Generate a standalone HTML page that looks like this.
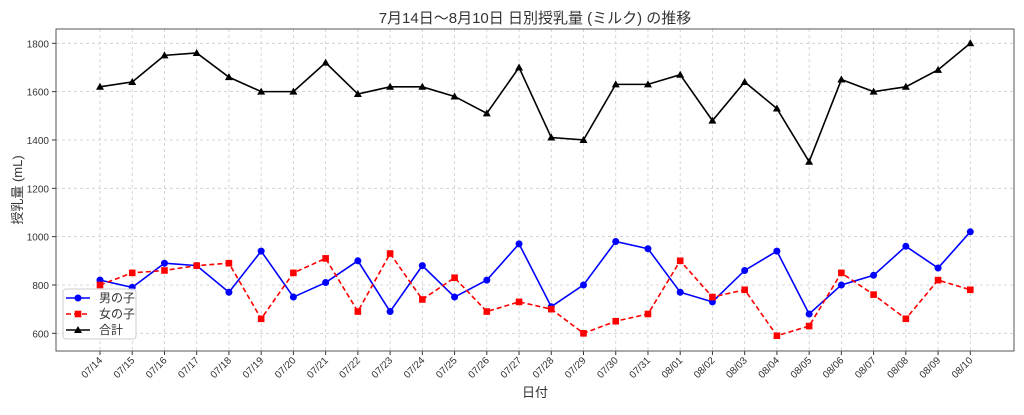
<!DOCTYPE html>
<html><head><meta charset="utf-8"><style>
body{margin:0;background:#fff;}
text{font-family:"Liberation Sans","Noto Sans CJK JP",sans-serif;fill:#333;}
</style></head><body>
<svg id="s" width="1024" height="410" xmlns="http://www.w3.org/2000/svg"></svg>
<script>
const boy=[820,790,890,880,770,940,750,810,900,690,880,750,820,970,710,800,980,950,770,730,860,940,680,800,840,960,870,1020];
const girl=[800,850,860,880,890,660,850,910,690,930,740,830,690,730,700,600,650,680,900,750,780,590,630,850,760,660,820,780];
const tot=boy.map((b,i)=>b+girl[i]);
const labels=[];for(let d=14;d<=31;d++)labels.push("07/"+d);for(let d=1;d<=10;d++)labels.push("08/"+String(d).padStart(2,"0"));
const X=i=>100+i*(870.3/27), Y=v=>333.3-(v-600)*0.24167;
let h='';
const L=56,R=1014,T=29,B=351;
for(let v=600;v<=1800;v+=200){const y=Y(v);h+=`<line x1="${L}" x2="${R}" y1="${y}" y2="${y}" stroke="#ccc" stroke-dasharray="3,3" stroke-width="0.8"/><line x1="${L-4}" x2="${L}" y1="${y}" y2="${y}" stroke="#333"/><text x="${L-7}" y="${y+4}" font-size="10" text-anchor="end">${v}</text>`;}
labels.forEach((l,i)=>{const x=X(i);h+=`<line x1="${x}" x2="${x}" y1="${T}" y2="${B}" stroke="#ccc" stroke-dasharray="3,3" stroke-width="0.8"/><line x1="${x}" x2="${x}" y1="${B}" y2="${B+4}" stroke="#333"/><text transform="translate(${x+3},${B+10}) rotate(-45)" font-size="10" text-anchor="end">${l}</text>`;});
h+=`<rect x="${L}" y="${T}" width="${R-L}" height="${B-T}" fill="none" stroke="#555" stroke-width="1"/>`;
function line(d,c,dash){return `<polyline points="${d.map((v,i)=>X(i)+','+Y(v)).join(' ')}" fill="none" stroke="${c}" stroke-width="1.6" ${dash?'stroke-dasharray="5,3"':''}/>`;}
h+=line(tot,'#000');h+=line(boy,'#00f');h+=line(girl,'#f00',1);
tot.forEach((v,i)=>{const x=X(i),y=Y(v);h+=`<polygon points="${x},${y-4} ${x-4},${y+3} ${x+4},${y+3}" fill="#000"/>`;});
boy.forEach((v,i)=>{h+=`<circle cx="${X(i)}" cy="${Y(v)}" r="3.5" fill="#00f"/>`;});
girl.forEach((v,i)=>{h+=`<rect x="${X(i)-3.3}" y="${Y(v)-3.3}" width="6.6" height="6.6" fill="#f00"/>`;});
h+=`<rect x="63" y="289" width="73" height="50" rx="3" fill="#fff" fill-opacity="0.85" stroke="#ccc"/>`;
h+=`<line x1="66" x2="90" y1="298" y2="298" stroke="#00f" stroke-width="1.6"/><circle cx="78" cy="298" r="3.5" fill="#00f"/><text x="99" y="302" font-size="12" fill="#222">男の子</text>`;
h+=`<line x1="66" x2="90" y1="314" y2="314" stroke="#f00" stroke-width="1.6" stroke-dasharray="5,3"/><rect x="74.7" y="310.7" width="6.6" height="6.6" fill="#f00"/><text x="99" y="318" font-size="12" fill="#222">女の子</text>`;
h+=`<line x1="66" x2="90" y1="330" y2="330" stroke="#000" stroke-width="1.6"/><polygon points="78,326 74,333 82,333" fill="#000"/><text x="99" y="334" font-size="12" fill="#222">合計</text>`;
h+=`<text x="535" y="23" font-size="15" text-anchor="middle" fill="#222">7月14日〜8月10日 日別授乳量 (ミルク) の推移</text>`;
h+=`<text x="535" y="397" font-size="13" text-anchor="middle" fill="#222">日付</text>`;
h+=`<text transform="translate(22,190) rotate(-90)" font-size="13" text-anchor="middle" fill="#222">授乳量 (mL)</text>`;
document.getElementById('s').innerHTML=h;
</script>
</body></html>
